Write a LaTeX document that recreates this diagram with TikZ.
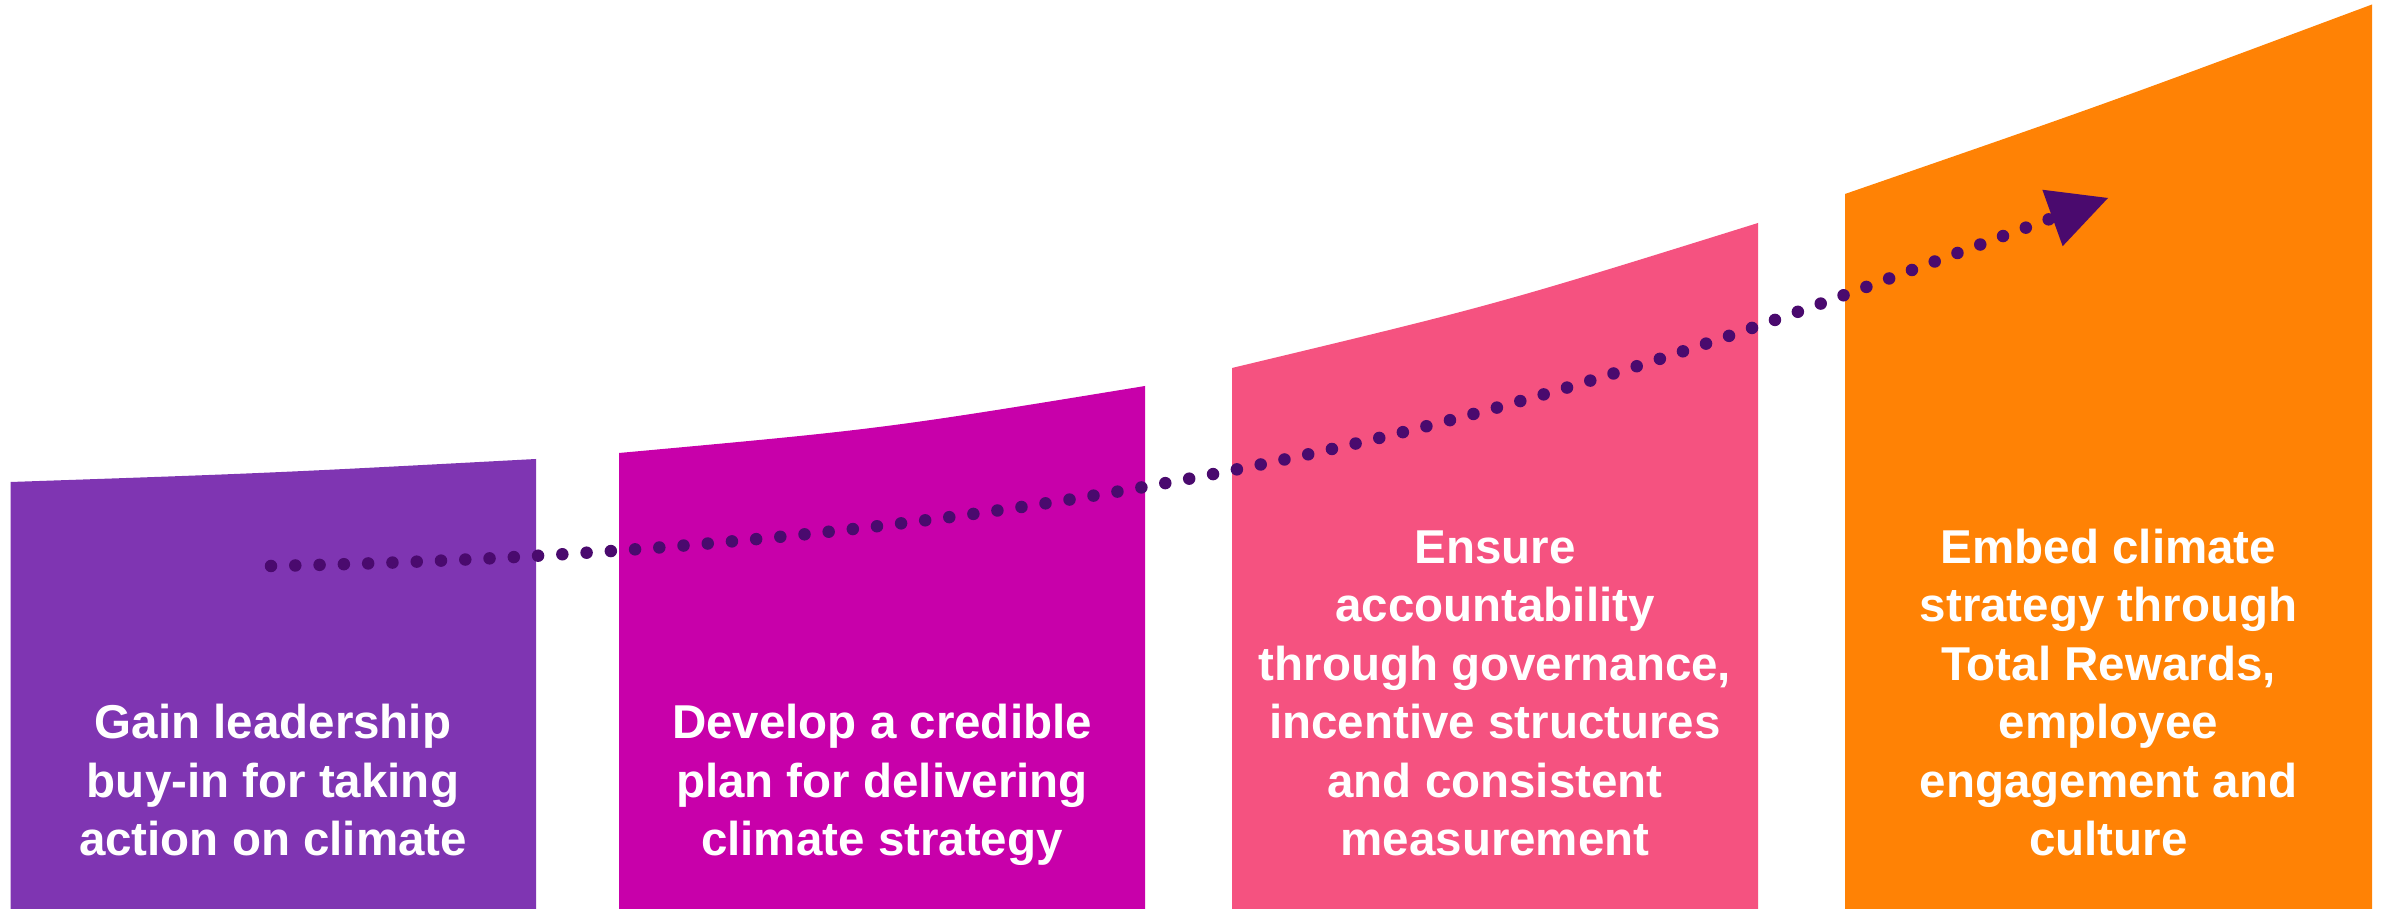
\documentclass[tikz,border=0pt]{standalone}
\usepackage{fontspec}
\setmainfont{Liberation Sans}
\usetikzlibrary{arrows.meta}
\definecolor{barpurple}{RGB}{127,53,178}
\definecolor{barmagenta}{RGB}{200,0,170}
\definecolor{barpink}{RGB}{245,82,128}
\definecolor{barorange}{RGB}{255,130,5}
\definecolor{dotpurple}{RGB}{74,10,110}

\begin{document}
\begin{tikzpicture}[x=1pt,y=1pt,
  steptext/.style={text=white, font=\bfseries\fontsize{47.5}{58.5}\selectfont,
    align=center, anchor=south, inner sep=0pt},
  dotpath/.style={draw=dotpurple, line width=12.5pt, line cap=round,
    dash pattern=on 0pt off 24.3pt,
    -{Triangle[length=59pt,width=60pt,line width=0pt 0 0]}}
]
\useasboundingbox (0,0) rectangle (2384,909);
\fill[white] (0,0) rectangle (2384,909);

% four stage columns, each with a rising, slightly curved top
\fill[barpurple]  (10.5,0) -- (10.5,427) .. controls (273,436) .. (536,450) -- (536,0) -- cycle;
\fill[barmagenta] (619,0) -- (619,456) .. controls (882,480) .. (1145,523) -- (1145,0) -- cycle;
\fill[barpink]    (1232,0) -- (1232,541) .. controls (1495,604) .. (1758,686) -- (1758,0) -- cycle;
\fill[barorange]  (1845,0) -- (1845,715) .. controls (2108,806) .. (2372,904.5) -- (2372,0) -- cycle;

% stage captions
\node[steptext] (t1) at (273,35.5) {Gain leadership\\buy-in for taking\\action on climate\strut};
\node[steptext] (t2) at (882,35.5) {Develop a credible\\plan for delivering\\climate strategy\strut};
\node[steptext] (t3) at (1495,35.5) {Ensure\\accountability\\through governance,\\incentive structures\\and consistent\\measurement\strut};
\node[steptext] (t4) at (2108.5,35.5) {Embed climate\\strategy through\\Total Rewards,\\employee\\engagement and\\culture\strut};

% dotted growth arrow
\coordinate (arrowstart) at (271,343);
\coordinate (arrowtip) at (2108,711);
\draw[dotpath] (arrowstart) .. controls (1271,363) and (1708,567) .. (arrowtip);
\end{tikzpicture}
\end{document}
